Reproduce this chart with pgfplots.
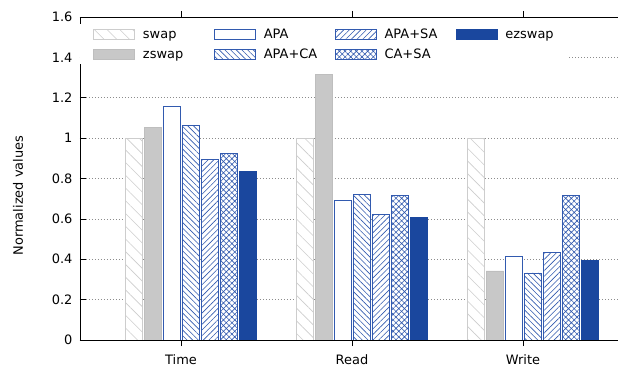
\documentclass[border=0pt]{standalone}
\usepackage{fontspec}
\setmainfont{DejaVu Sans}
\usepackage{pgfplots}
\pgfplotsset{compat=1.18}
\usetikzlibrary{patterns.meta}
\definecolor{ezblue}{RGB}{26,71,158}
\definecolor{lblue}{RGB}{50,90,175}
\definecolor{zgray}{RGB}{200,200,200}
\definecolor{sgray}{RGB}{205,205,205}
\newcommand{\ff}{\fontsize{13}{15.6}\selectfont}
\begin{document}
\begin{tikzpicture}[font=\ff]
\begin{axis}[
  at={(0,0)}, anchor=south west,
  scale only axis, width=538bp, height=323bp,
  xmin=-0.5906, xmax=2.556, ymin=0, ymax=1.6,
  axis x line*=box, axis y line*=left,
  axis line style={black, line width=0.8bp},
  xtick={0,1,2}, xticklabels={Time,Read,Write},
  ytick={0,0.2,0.4,0.6,0.8,1,1.2,1.4,1.6},
  /pgf/number format/assume math mode=true,
  tick align=inside, major tick length=6bp,
  tick style={black, line width=0.6bp},
  ymajorgrids,
  grid style={black!45, dash pattern=on 0.8bp off 2.2bp, line width=0.6bp},
  xticklabel style={font=\ff, yshift=-5bp},
  yticklabel style={font=\ff, xshift=-4bp},
  every axis y label/.style={at={(axis description cs:-0.1152,0.447)}, rotate=90, anchor=center, font=\ff},
  ylabel={Normalized values},
  ybar, bar width=17.5bp,
  legend columns=4,
  legend cell align=left,
  legend style={at={(0,1)}, anchor=north west, yshift=-7bp, fill=white, draw=none, font=\ff,
    inner xsep=13bp, inner ysep=0bp, column sep=0pt, row sep=0pt,
    nodes={inner sep=0pt, minimum height=20bp}},
  legend image code/.code={\draw[#1] (0bp,-5bp) rectangle (41bp,5bp);},
]
% swap
\addplot[bar shift=-47bp, draw=sgray, line width=0.8bp, fill=white,
  postaction={pattern={Lines[angle=-45,distance=9bp,line width=0.6bp]}, pattern color=sgray}]
  coordinates {(0,1.0) (1,1.0) (2,1.0)};
\addlegendentry{\hspace*{8bp}\makebox[71bp][l]{\strut swap}}
% APA
\addplot[bar shift=-9bp, draw=lblue, line width=0.8bp, fill=white]
  coordinates {(0,1.155) (1,0.693) (2,0.413)};
\addlegendentry{\hspace*{8bp}\makebox[71bp][l]{\strut APA}}
% APA+SA
\addplot[bar shift=29bp, draw=lblue, line width=0.8bp, fill=white,
  postaction={pattern={Lines[angle=45,distance=4bp,line width=0.6bp]}, pattern color=lblue}]
  coordinates {(0,0.893) (1,0.624) (2,0.433)};
\addlegendentry{\hspace*{8bp}\makebox[71bp][l]{\strut APA+SA}}
% ezswap
\addplot[bar shift=67bp, draw=ezblue, line width=0.8bp, fill=ezblue]
  coordinates {(0,0.835) (1,0.606) (2,0.393)};
\addlegendentry{\hspace*{8bp}\makebox[50bp][l]{\strut ezswap}}
% zswap
\addplot[bar shift=-28bp, draw=zgray!95!black, line width=0.8bp, fill=zgray]
  coordinates {(0,1.055) (1,1.315) (2,0.342)};
\addlegendentry{\hspace*{8bp}\makebox[71bp][l]{\strut zswap}}
% APA+CA
\addplot[bar shift=10bp, draw=lblue, line width=0.8bp, fill=white,
  postaction={pattern={Lines[angle=-45,distance=4bp,line width=0.6bp]}, pattern color=lblue}]
  coordinates {(0,1.065) (1,0.722) (2,0.332)};
\addlegendentry{\hspace*{8bp}\makebox[71bp][l]{\strut APA+CA}}
% CA+SA
\addplot[bar shift=48bp, draw=lblue, line width=0.8bp, fill=white,
  postaction={pattern={Hatch[angle=45,distance=4bp,line width=0.6bp]}, pattern color=lblue}]
  coordinates {(0,0.923) (1,0.714) (2,0.714)};
\addlegendentry{\hspace*{8bp}\makebox[71bp][l]{\strut CA+SA}}
\end{axis}
\pgfresetboundingbox
\path (-80bp,-28bp) rectangle (538bp,340bp);
\end{tikzpicture}
\end{document}
